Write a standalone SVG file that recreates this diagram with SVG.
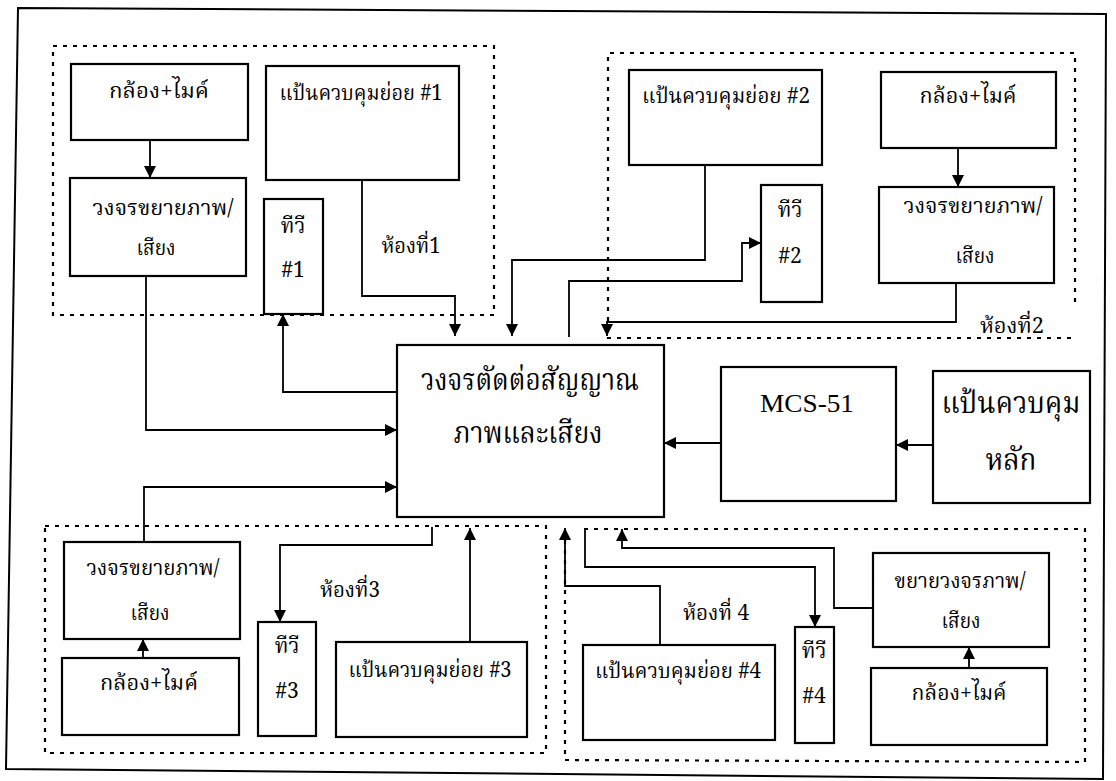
<svg xmlns="http://www.w3.org/2000/svg" width="1116" height="781" viewBox="0 0 1116 781">
<defs>
<marker id="ah" viewBox="0 0 10 10" refX="10" refY="5" markerWidth="12" markerHeight="12" markerUnits="userSpaceOnUse" orient="auto">
<path d="M0,0 L10,5 L0,10 z" fill="#000"/>
</marker>
<style>
.box{fill:#fff;stroke:#000;stroke-width:2.2}
.room{fill:none;stroke:#000;stroke-width:2.2;stroke-dasharray:4 6}
.cn{fill:none;stroke:#000;stroke-width:1.8;marker-end:url(#ah)}
.t{font-family:'Noto Serif Thai','Noto Sans Thai Looped','Noto Sans Thai','Loma',sans-serif;font-size:21px;fill:#000;text-anchor:middle}
.tb{font-family:'Noto Serif Thai','Noto Sans Thai Looped','Noto Sans Thai','Loma',sans-serif;font-size:30px;fill:#000;text-anchor:middle}
.m{font-family:'Liberation Serif',serif;font-size:26px;fill:#000;text-anchor:middle}
</style>
</defs>
<rect width="1116" height="781" fill="#fff"/>
<polygon points="18,8 1106,14 1103,779 6,769" fill="none" stroke="#000" stroke-width="2"/>

<g id="rooms">
<rect class="room" x="53" y="46" width="441" height="269"/>
<polyline class="room" points="1075,302 1075,53 608,53 608,338 1072,338"/>
<rect class="room" x="45" y="526" width="501" height="227"/>
<polyline class="room" points="584,529 1085,529 1085,762 565,760 565,529"/>
</g>

<g id="connectors">
<path class="cn" d="M150,140 V178"/>
<path class="cn" d="M958,148 V187"/>
<path class="cn" d="M362,180 V296 H455 V336"/>
<path class="cn" d="M705,165 V260 H512 V336"/>
<path class="cn" d="M569,337 V281 H742 V243 H761"/>
<path class="cn" d="M956,283 V322 H607 V336"/>
<path class="cn" d="M397,392 H283 V314"/>
<path class="cn" d="M146,276 V430 H397"/>
<path class="cn" d="M144,542 V487 H397"/>
<path class="cn" d="M721,443 H664"/>
<path class="cn" d="M933,445 H896"/>
<path class="cn" d="M432,527 V545 H280 V622"/>
<path class="cn" d="M470,642 V528"/>
<path class="cn" d="M143,658 V639"/>
<path class="cn" d="M660,645 V586 H565 V528"/>
<path class="cn" d="M585,529 V567 H815 V627"/>
<path class="cn" d="M873,608 H834 V548 H622 V529"/>
<path class="cn" d="M969,668 V647"/>
</g>

<g id="cam1"><rect class="box" x="71" y="64" width="177" height="76"/><text class="t" x="159" y="98" textLength="100" lengthAdjust="spacingAndGlyphs">กล้อง+ไมค์</text></g>
<g id="kp1"><rect class="box" x="266" y="66" width="193" height="114"/><text class="t" x="361" y="100" textLength="163" lengthAdjust="spacingAndGlyphs">แป้นควบคุมย่อย #1</text></g>
<g id="amp1"><rect class="box" x="70" y="178" width="176" height="98"/><text class="t" x="163" y="215" textLength="141" lengthAdjust="spacingAndGlyphs">วงจรขยายภาพ/</text><text class="t" x="156" y="255" textLength="39" lengthAdjust="spacingAndGlyphs">เสียง</text></g>
<g id="tv1"><rect class="box" x="264" y="199" width="59" height="115"/><text class="t" x="293" y="233">ทีวี</text><text class="t" x="293" y="277">#1</text></g>
<text class="t" x="411" y="253" textLength="59" lengthAdjust="spacingAndGlyphs">ห้องที่1</text>

<g id="kp2"><rect class="box" x="629" y="70" width="193" height="95"/><text class="t" x="726" y="103" textLength="168" lengthAdjust="spacingAndGlyphs">แป้นควบคุมย่อย #2</text></g>
<g id="cam2"><rect class="box" x="881" y="72" width="175" height="76"/><text class="t" x="968" y="103" textLength="97" lengthAdjust="spacingAndGlyphs">กล้อง+ไมค์</text></g>
<g id="tv2"><rect class="box" x="761" y="185" width="61" height="117"/><text class="t" x="790" y="217">ทีวี</text><text class="t" x="790" y="263">#2</text></g>
<g id="amp2"><rect class="box" x="879" y="187" width="175" height="96"/><text class="t" x="973" y="213" textLength="139" lengthAdjust="spacingAndGlyphs">วงจรขยายภาพ/</text><text class="t" x="975" y="263" textLength="39" lengthAdjust="spacingAndGlyphs">เสียง</text></g>
<text class="t" x="1012" y="333" textLength="64" lengthAdjust="spacingAndGlyphs">ห้องที่2</text>

<g id="center"><rect class="box" x="397" y="345" width="267" height="172"/><text class="tb" x="530" y="390" textLength="218" lengthAdjust="spacingAndGlyphs">วงจรตัดต่อสัญญาณ</text><text class="tb" x="528" y="443" textLength="149" lengthAdjust="spacingAndGlyphs">ภาพและเสียง</text></g>
<g id="mcs"><rect class="box" x="721" y="367" width="175" height="134"/><text class="m" x="807" y="412" textLength="94" lengthAdjust="spacingAndGlyphs">MCS-51</text></g>
<g id="mainkp"><rect class="box" x="933" y="371" width="157" height="132"/><text class="tb" x="1011" y="413" textLength="139" lengthAdjust="spacingAndGlyphs">แป้นควบคุม</text><text class="tb" x="1011" y="470" textLength="51" lengthAdjust="spacingAndGlyphs">หลัก</text></g>

<g id="amp3"><rect class="box" x="64" y="542" width="176" height="97"/><text class="t" x="153" y="575" textLength="133" lengthAdjust="spacingAndGlyphs">วงจรขยายภาพ/</text><text class="t" x="150" y="620" textLength="39" lengthAdjust="spacingAndGlyphs">เสียง</text></g>
<g id="cam3"><rect class="box" x="62" y="658" width="177" height="77"/><text class="t" x="149" y="690" textLength="98" lengthAdjust="spacingAndGlyphs">กล้อง+ไมค์</text></g>
<g id="tv3"><rect class="box" x="258" y="622" width="58" height="114"/><text class="t" x="287" y="653">ทีวี</text><text class="t" x="287" y="698">#3</text></g>
<g id="kp3"><rect class="box" x="336" y="642" width="191" height="95"/><text class="t" x="430" y="677" textLength="163" lengthAdjust="spacingAndGlyphs">แป้นควบคุมย่อย #3</text></g>
<text class="t" x="350" y="597" textLength="60" lengthAdjust="spacingAndGlyphs">ห้องที่3</text>

<g id="kp4"><rect class="box" x="583" y="645" width="192" height="95"/><text class="t" x="678" y="678" textLength="166" lengthAdjust="spacingAndGlyphs">แป้นควบคุมย่อย #4</text></g>
<g id="tv4"><rect class="box" x="795" y="627" width="39" height="116"/><text class="t" x="814" y="658">ทีวี</text><text class="t" x="814" y="703">#4</text></g>
<g id="amp4"><rect class="box" x="873" y="553" width="176" height="94"/><text class="t" x="960" y="588" textLength="131" lengthAdjust="spacingAndGlyphs">ขยายวงจรภาพ/</text><text class="t" x="961" y="628" textLength="39" lengthAdjust="spacingAndGlyphs">เสียง</text></g>
<g id="cam4"><rect class="box" x="871" y="668" width="176" height="77"/><text class="t" x="959" y="700" textLength="95" lengthAdjust="spacingAndGlyphs">กล้อง+ไมค์</text></g>
<text class="t" x="716" y="620" textLength="66" lengthAdjust="spacingAndGlyphs">ห้องที่ 4</text>
</svg>
